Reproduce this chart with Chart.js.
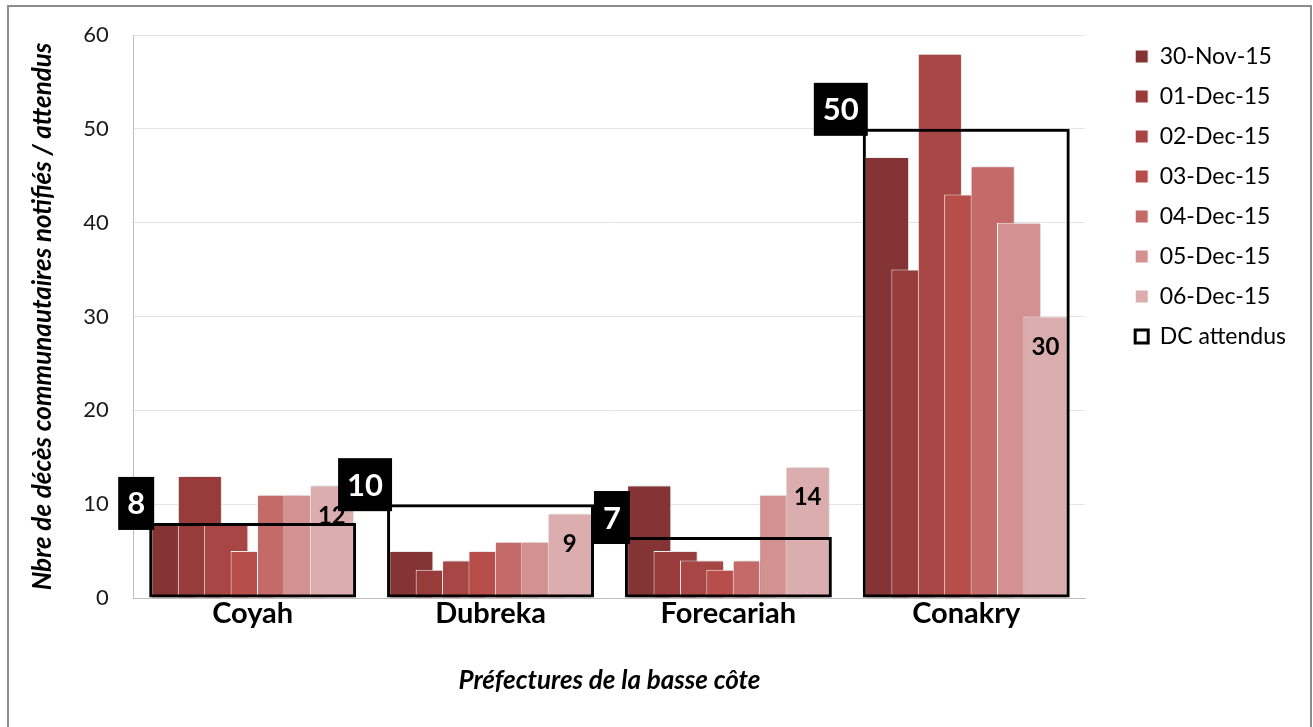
<!DOCTYPE html>
<html lang="fr">
<head>
<meta charset="UTF-8">
<title>Décès communautaires notifiés / attendus</title>
<script src="https://cdn.jsdelivr.net/npm/chart.js"></script>
<style>
  body { margin: 0; background: #fff; }
  canvas { position: absolute; left: 0; top: 0; }
  #frame { position: absolute; left: 7px; top: 5px; width: 1305px; height: 760px;
           border: 2px solid #8c8c8c; box-sizing: border-box; pointer-events: none; }
</style>
</head>
<body>
<canvas id="chart" width="1313" height="727"></canvas>
<div id="frame"></div>
<script>
// categories
const prefectures = ['Coyah', 'Dubreka', 'Forecariah', 'Conakry'];
// one series per reporting day
const dates = ['30-Nov-15', '01-Dec-15', '02-Dec-15', '03-Dec-15', '04-Dec-15', '05-Dec-15', '06-Dec-15'];
const nov30 = [8, 5, 12, 47];
const dec01 = [13, 3, 5, 35];
const dec02 = [8, 4, 4, 58];
const dec03 = [5, 5, 3, 43];
const dec04 = [11, 6, 4, 46];
const dec05 = [11, 6, 11, 40];
const dec06 = [12, 9, 14, 30];
// expected deaths (outlined box)
const dcAttendus = [8, 10, 6.5, 50];
const yTicks = [0, 10, 20, 30, 40, 50, 60];

const colors = ['#843434', '#973c3b', '#a74644', '#b84e4a', '#c46a69', '#d39291', '#dcadae'];
const font = 'Lato';

const dailySeries = [nov30, dec01, dec02, dec03, dec04, dec05, dec06];

const datasets = dailySeries.map((vals, i) => ({
    label: dates[i],
    data: vals,
    backgroundColor: colors[i],
    borderColor: '#ffffff',
    borderWidth: 1,
    categoryPercentage: 0.777,
    barPercentage: 1.67
}));

datasets.push({
    label: 'DC attendus',
    data: dcAttendus,
    backgroundColor: 'rgba(255,255,255,0)',
    borderColor: '#000000',
    borderWidth: 3,
    borderSkipped: false,
    grouped: false,
    categoryPercentage: 0.87,
    barPercentage: 1
});

function drawLabels(chart) {
    const ctx = chart.ctx;
    ctx.save();
    ctx.textAlign = 'center';
    ctx.textBaseline = 'middle';

    // value of the last day, inside the top of its bar
    const lastMeta = chart.getDatasetMeta(dailySeries.length - 1);
    ctx.font = 'bold 24px ' + font;
    ctx.fillStyle = '#000';
    lastMeta.data.forEach((bar, i) => {
        ctx.fillText(String(dec06[i]), bar.x, bar.y + 31);
    });

    // DC attendus: white number on black box at the top-left corner
    const dcMeta = chart.getDatasetMeta(dailySeries.length);
    ctx.font = 'bold 31px ' + font;
    dcMeta.data.forEach((bar, i) => {
        const txt = String(Math.round(dcAttendus[i]));
        const w = ctx.measureText(txt).width + 18;
        const h = 53;
        const right = bar.x - bar.width / 2 + 5;
        const bottom = bar.y + 7;
        ctx.fillStyle = '#000';
        ctx.fillRect(right - w, bottom - h, w, h);
        ctx.fillStyle = '#fff';
        ctx.fillText(txt, right - w / 2, bottom - h / 2 + 1);
    });
    ctx.restore();
}

// later days drawn over earlier ones (like the overlapped Excel bars), DC box on top
const drawOrder = {
    id: 'drawOrder',
    beforeDatasetsDraw(chart) {
        const ctx = chart.ctx;
        for (let i = 0; i < chart.data.datasets.length; i++) {
            const meta = chart.getDatasetMeta(i);
            if (!meta.visible) continue;
            ctx.save();
            if (i < dailySeries.length) {
                ctx.shadowColor = 'rgba(0,0,0,0.22)';
                ctx.shadowBlur = 3;
                ctx.shadowOffsetX = 1;
            }
            meta.controller.draw();
            ctx.restore();
        }
        drawLabels(chart);
        return false;
    }
};

new Chart(document.getElementById('chart'), {
    type: 'bar',
    data: { labels: prefectures, datasets: datasets },
    options: {
        responsive: false,
        animation: false,
        devicePixelRatio: 1,
        layout: { padding: { left: 20, right: 17, top: 28, bottom: 31 } },
        plugins: {
            legend: {
                position: 'right',
                align: 'start',
                labels: {
                    boxWidth: 13,
                    boxHeight: 13,
                    padding: 17,
                    color: '#000',
                    font: { family: font, size: 23 }
                }
            },
            tooltip: { enabled: false }
        },
        scales: {
            x: {
                grid: { display: false, drawTicks: false },
                border: { color: '#bfbfbf' },
                ticks: { color: '#000', padding: -2, font: { family: font, size: 29, weight: 'bold' } },
                title: {
                    display: true,
                    text: 'Préfectures de la basse côte',
                    color: '#000',
                    padding: { top: 36, bottom: 0 },
                    font: { family: font, size: 26, weight: 'bold', style: 'italic' }
                }
            },
            y: {
                min: 0,
                max: 60,
                afterBuildTicks: (scale) => { scale.ticks = yTicks.map(v => ({ value: v })); },
                afterFit: (scale) => { scale.paddingTop = 35; },
                grid: { color: '#e4e4e4', drawTicks: false },
                border: { color: '#bfbfbf' },
                ticks: { color: '#1a1a1a', padding: 25, font: { family: font, size: 22 } },
                title: {
                    display: true,
                    text: 'Nbre de décès communautaires notifiés / attendus',
                    color: '#000',
                    padding: { top: 7, bottom: 0 },
                    font: { family: font, size: 26, weight: 'bold', style: 'italic' }
                }
            },
            // empty spacer between the plot and the legend
            gap: {
                type: 'linear',
                position: 'right',
                grid: { display: false },
                border: { display: false },
                ticks: { display: false },
                afterFit: (scale) => { scale.width = 33; }
            }
        }
    },
    plugins: [drawOrder]
});
</script>
</body>
</html>
